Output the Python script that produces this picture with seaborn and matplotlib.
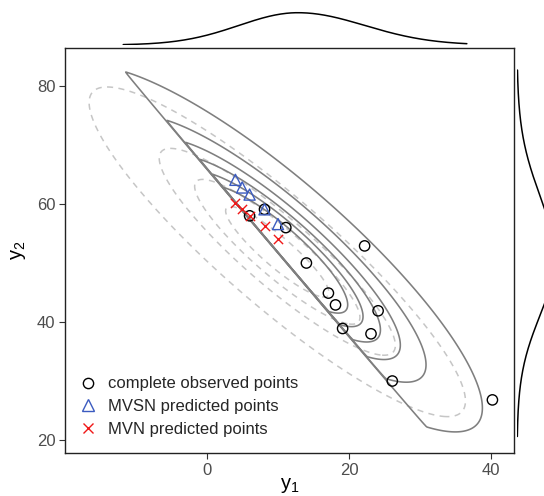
import math
import numpy as np
import pandas as pd
import matplotlib
matplotlib.use("Agg")
import matplotlib.pyplot as plt
import seaborn as sns
from matplotlib.lines import Line2D

# ---------------- data ----------------
obs_y1 = [6, 8.1, 11.1, 14, 17.1, 18.1, 19.1, 22.2, 23.1, 24.1, 26.1, 40.2]
obs_y2 = [58, 59.1, 56, 50, 44.9, 42.9, 38.9, 52.9, 38, 41.9, 30, 26.8]
pred_y1 = [4.0, 4.95, 6.0, 8.1, 10.0]
mvsn_y2 = [64.1, 62.8, 61.6, 59.1, 56.6]
mvn_y2 = [60.2, 59.1, 58.0, 56.2, 54.1]

# fitted MVSN (solid contours)
mvsn_xi = [9.6, 52.35]
mvsn_Omega = [[136.3, -125.7], [-125.7, 153.5]]
mvsn_alpha = [286.0, 214.0]
mvsn_levels_d = [2.5, 1.82, 1.51, 1.27, 1.06, 0.875]

# fitted MVN (dashed contours)
mvn_mu = [9.9, 51.9]
mvn_Sigma = [[108.0, -103.0], [-103.0, 120.0]]
mvn_levels_d = [2.55, 1.6, 1.12, 0.70]

# marginal densities (two-piece normal: mode, left sd, right sd)
marg_y1 = [12.8, 8.3, 9.4]
marg_y2 = [50.75, 9.8, 10.8]
marg_y1_range = [-11.8, 36.6]
marg_y2_range = [20.6, 82.7]

legend_labels = ["complete observed points", "MVSN predicted points", "MVN predicted points"]

# ---------------- helpers ----------------
erf_v = np.frompyfunc(math.erf, 1, 1)

def Phi(z):
    return 0.5 * (1.0 + erf_v(np.clip(z, -40, 40) / math.sqrt(2)).astype(float))

def mvn_pdf(X, Y, mu, S):
    S = np.asarray(S)
    Si = np.linalg.inv(S)
    dx, dy = X - mu[0], Y - mu[1]
    q = Si[0, 0] * dx * dx + 2 * Si[0, 1] * dx * dy + Si[1, 1] * dy * dy
    return np.exp(-q / 2) / (2 * np.pi * math.sqrt(np.linalg.det(S)))

def mvsn_pdf(X, Y, xi, Om, al):
    Om = np.asarray(Om)
    w = np.sqrt(np.diag(Om))
    lin = al[0] * (X - xi[0]) / w[0] + al[1] * (Y - xi[1]) / w[1]
    return 2 * mvn_pdf(X, Y, xi, Om) * Phi(lin)

def level_of(S, d):
    return 1.0 / (2 * np.pi * math.sqrt(np.linalg.det(np.asarray(S)))) * np.exp(-np.asarray(d) ** 2 / 2)

def two_piece(t, p):
    m, sl, sr = p
    s = np.where(t < m, sl, sr)
    return np.exp(-0.5 * ((t - m) / s) ** 2)

# ---------------- figure ----------------
sns.set_theme(style="white")
plt.rcParams["font.family"] = ["Liberation Sans", "DejaVu Sans"]
plt.rcParams["mathtext.fontset"] = "custom"
plt.rcParams["mathtext.rm"] = "Liberation Sans"

W, H = 544, 496
fig = plt.figure(figsize=(W / 100, H / 100), dpi=100)
L, R, T, B = 65, 514, 48, 453
ax = fig.add_axes([L / W, (H - B) / H, (R - L) / W, (B - T) / H])
xlim = (-20.0, 43.24)
ylim = (17.8, 86.44)

# contours
gx = np.linspace(-20, 44, 1100)
gy = np.linspace(17, 87, 1100)
GX, GY = np.meshgrid(gx, gy)
Zn = mvn_pdf(GX, GY, mvn_mu, mvn_Sigma)
Zs = mvsn_pdf(GX, GY, mvsn_xi, mvsn_Omega, mvsn_alpha)
lv_n = np.sort(level_of(mvn_Sigma, mvn_levels_d))
lv_s = np.sort(2 * level_of(mvsn_Omega, mvsn_levels_d))
ax.contour(GX, GY, Zn, levels=lv_n, colors="#C6C6C6", linewidths=1.1,
           linestyles=[(0, (4.0, 3.5))])
ax.contour(GX, GY, Zs, levels=lv_s, colors="#7F7F7F", linewidths=1.15)

# points
sns.scatterplot(x=obs_y1, y=obs_y2, ax=ax, marker="o", s=55, facecolor="none",
                edgecolor="black", linewidth=1.0, zorder=5)
sns.scatterplot(x=pred_y1, y=mvsn_y2, ax=ax, marker="^", s=64, facecolor="none",
                edgecolor="#3B5BC0", linewidth=1.0, zorder=6)
sns.scatterplot(x=pred_y1, y=mvn_y2, ax=ax, marker="x", s=44, color="#F01818",
                linewidth=1.0, zorder=6)

ax.set_xlim(*xlim)
ax.set_ylim(*ylim)
ax.set_xticks([0, 20, 40])
ax.set_yticks([20, 40, 60, 80])
ax.tick_params(axis="both", which="major", direction="out", length=4, width=0.8,
               color="#333333", labelsize=12, labelcolor="#4D4D4D", pad=3,
               bottom=True, left=True)
for sp in ax.spines.values():
    sp.set_color("#222222")
    sp.set_linewidth(1.0)
ax.set_xlabel(r"$\mathregular{y_1}$", fontsize=14.5, labelpad=-1, color="black")
ax.set_ylabel(r"$\mathregular{y_2}$", fontsize=14.5, labelpad=6, color="black")

handles = [
    Line2D([], [], marker="o", linestyle="none", markersize=7.4, markerfacecolor="none",
           markeredgecolor="black", markeredgewidth=1.0),
    Line2D([], [], marker="^", linestyle="none", markersize=8.2, markerfacecolor="none",
           markeredgecolor="#3B5BC0", markeredgewidth=1.0),
    Line2D([], [], marker="x", linestyle="none", markersize=6.6, color="#F01818",
           markeredgewidth=1.0),
]
ax.legend(handles, legend_labels, loc="upper left", bbox_to_anchor=(0.0327, 0.189),
          frameon=False, fontsize=12, handlelength=1.0, handletextpad=0.7,
          labelspacing=0.46, borderpad=0, borderaxespad=0)

# top marginal
tx = np.linspace(marg_y1_range[0], marg_y1_range[1], 300)
td = two_piece(tx, marg_y1)
axt = fig.add_axes([L / W, 1 - 45 / H, (R - L) / W, 45 / H])
sns.lineplot(x=tx, y=td, ax=axt, color="black", linewidth=1.1, sort=False)
axt.set_xlim(*xlim)
axt.set_ylim(0, td.max() * 45 / 32.3)
axt.axis("off")

# right marginal
ry = np.linspace(marg_y2_range[0], marg_y2_range[1], 300)
rd = two_piece(ry, marg_y2)
axr = fig.add_axes([517 / W, (H - B) / H, 83 / W, (B - T) / H])
sns.lineplot(x=rd, y=ry, ax=axr, color="black", linewidth=1.1, sort=False, orient="y")
axr.set_ylim(*ylim)
axr.set_xlim(0, rd.max() * 83 / 37.3)
axr.axis("off")

fig.savefig("out.png", dpi=100)
